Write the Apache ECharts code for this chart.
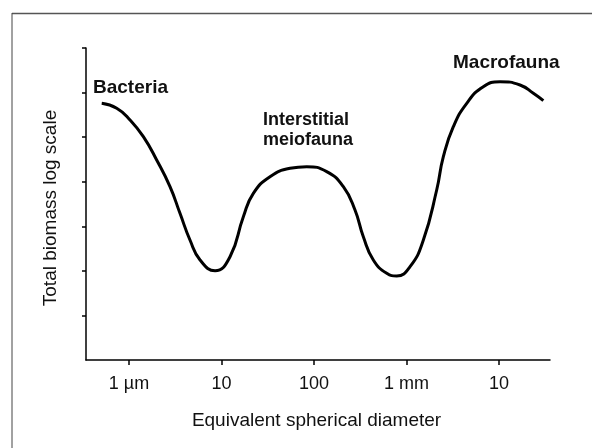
<!DOCTYPE html>
<html>
<head>
<meta charset="utf-8">
<script src="https://cdn.jsdelivr.net/npm/echarts@6/dist/echarts.min.js"></script>
<style>
html,body{margin:0;padding:0;background:#fff;}
#chart{width:592px;height:448px;}
</style>
</head>
<body>
<div id="chart"></div>
<script>
// x: log10(equivalent spherical diameter / 1 µm); y: total biomass, log scale units
const tickValues = [0, 1, 2, 3, 4];
const tickLabels = ['1 µm', '10', '100', '1 mm', '10'];
const yTickValues = [1, 2, 3, 4, 5, 6, 7];
const curveX = [-0.295, -0.133, 0.011, 0.155, 0.299, 0.443, 0.551, 0.659, 0.768, 0.930,
  1.092, 1.236, 1.344, 1.524, 1.741, 1.921, 2.137, 2.317, 2.443, 2.533,
  2.641, 2.786, 2.894, 3.038, 3.182, 3.326, 3.398, 3.506, 3.651, 3.830,
  4.011, 4.227, 4.371, 4.479];
const curveY = [5.759, 5.647, 5.385, 5.010, 4.487, 3.888, 3.291, 2.692, 2.244, 2.004,
  2.318, 3.216, 3.740, 4.113, 4.301, 4.337, 4.225, 3.888, 3.365, 2.766,
  2.244, 1.945, 1.885, 2.093, 2.692, 3.814, 4.561, 5.234, 5.759, 6.132,
  6.244, 6.170, 5.984, 5.818];
const groupLabels = ['Bacteria', 'Interstitial', 'meiofauna', 'Macrofauna'];
const xTitle = 'Equivalent spherical diameter';
const yTitle = 'Total biomass log scale';

const FONT = '"Liberation Sans", Arial, Helvetica, sans-serif';
const chart = echarts.init(document.getElementById('chart'), null, {renderer: 'canvas'});
const data = curveX.map((x, i) => [x, curveY[i]]);

function txt(text, x, y, size, weight, align) {
  return {
    type: 'text', x: x, y: y, silent: true,
    style: {text: text, fill: '#111', font: weight + ' ' + size + 'px ' + FONT,
      textAlign: align, textVerticalAlign: 'middle'}
  };
}

chart.setOption({
  animation: false,
  backgroundColor: '#fff',
  grid: {left: 86, right: 42, top: 48, bottom: 88},
  xAxis: {
    type: 'value', min: -0.465, max: 4.551,
    axisLine: {show: true, onZero: false, lineStyle: {color: '#000', width: 1.5}},
    axisTick: {show: true, length: 5, inside: false, customValues: tickValues,
      lineStyle: {color: '#000', width: 1.5}},
    axisLabel: {show: true, customValues: tickValues, margin: 15,
      fontSize: 18, fontFamily: FONT, color: '#111',
      formatter: v => tickLabels[tickValues.indexOf(Math.round(v))] || ''},
    splitLine: {show: false}
  },
  yAxis: {
    type: 'value', min: 0, max: 7, interval: 1,
    axisLine: {show: true, onZero: false, lineStyle: {color: '#000', width: 1.5}},
    axisTick: {show: true, length: 4, inside: false, customValues: yTickValues,
      lineStyle: {color: '#000', width: 1.5}},
    axisLabel: {show: false},
    splitLine: {show: false}
  },
  series: [{
    type: 'line', data: data, smooth: 0.5, showSymbol: false,
    lineStyle: {color: '#000', width: 3}, silent: true
  }],
  graphic: [
    {type: 'line', silent: true, shape: {x1: 12, y1: 13.5, x2: 592, y2: 13.5},
      style: {stroke: '#555', lineWidth: 1.5}},
    {type: 'line', silent: true, shape: {x1: 12, y1: 13, x2: 12, y2: 448},
      style: {stroke: '#444', lineWidth: 1}},
    txt(groupLabels[0], 93, 88, 19, 'bold', 'left'),
    txt(groupLabels[1], 263, 120, 18, 'bold', 'left'),
    txt(groupLabels[2], 263, 140, 18, 'bold', 'left'),
    txt(groupLabels[3], 453, 63, 19, 'bold', 'left'),
    txt(xTitle, 316.5, 420.5, 19, 'normal', 'center'),
    {type: 'text', x: 51, y: 208, rotation: Math.PI / 2, silent: true,
      style: {text: yTitle, fill: '#111', font: 'normal 19px ' + FONT,
        textAlign: 'center', textVerticalAlign: 'middle'}}
  ]
});
</script>
</body>
</html>
